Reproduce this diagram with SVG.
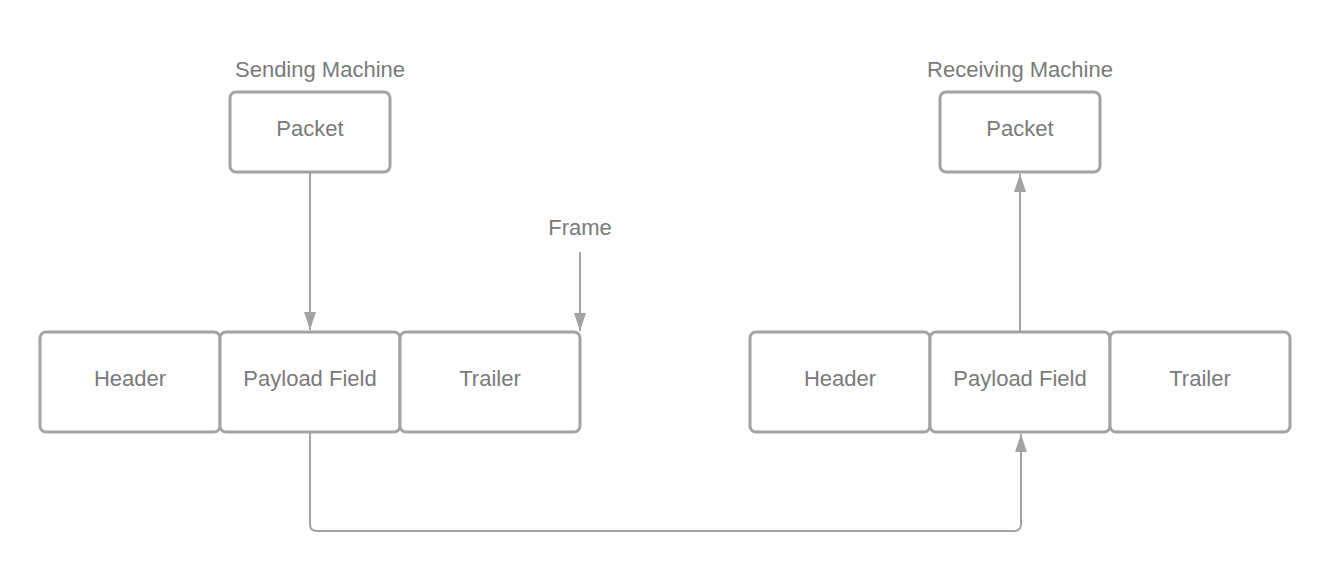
<svg xmlns="http://www.w3.org/2000/svg" width="1330" height="572" viewBox="0 0 1330 572">
<defs>
<style>
.box{fill:#fff;stroke:#a3a3a3;stroke-width:3}
.t{font-family:"Liberation Sans",Arial,sans-serif;font-size:22px;fill:#7a7a7a;text-anchor:middle}
.c{fill:none;stroke:#a3a3a3;stroke-width:2}
</style>
<marker id="ah" viewBox="0 0 18 12" refX="18" refY="6" markerWidth="18" markerHeight="12" markerUnits="userSpaceOnUse" orient="auto">
<path d="M0,0 L18,6 L0,12 Z" fill="#a3a3a3"/>
</marker>
</defs>
<rect width="1330" height="572" fill="#fff"/>
<g id="connectors">
<path class="c" d="M310,172 V330" marker-end="url(#ah)"/>
<path class="c" d="M580,252 V331" marker-end="url(#ah)"/>
<path class="c" d="M310,432 V524 Q310,531 317,531 H1014 Q1021,531 1021,524 V434" marker-end="url(#ah)"/>
<path class="c" d="M1020,332 V174" marker-end="url(#ah)"/>
</g>
<g id="label-sending"><text class="t" x="320" y="77">Sending Machine</text></g>
<g id="label-receiving"><text class="t" x="1020" y="77">Receiving Machine</text></g>
<g id="label-frame"><text class="t" x="580" y="235">Frame</text></g>
<g id="packet-send"><rect class="box" x="230" y="92" width="160" height="80" rx="6"/><text class="t" x="310" y="136">Packet</text></g>
<g id="packet-recv"><rect class="box" x="940" y="92" width="160" height="80" rx="6"/><text class="t" x="1020" y="136">Packet</text></g>
<g id="header-send"><rect class="box" x="40" y="332" width="180" height="100" rx="6"/><text class="t" x="130" y="386">Header</text></g>
<g id="payload-send"><rect class="box" x="220" y="332" width="180" height="100" rx="6"/><text class="t" x="310" y="386">Payload Field</text></g>
<g id="trailer-send"><rect class="box" x="400" y="332" width="180" height="100" rx="6"/><text class="t" x="490" y="386">Trailer</text></g>
<g id="header-recv"><rect class="box" x="750" y="332" width="180" height="100" rx="6"/><text class="t" x="840" y="386">Header</text></g>
<g id="payload-recv"><rect class="box" x="930" y="332" width="180" height="100" rx="6"/><text class="t" x="1020" y="386">Payload Field</text></g>
<g id="trailer-recv"><rect class="box" x="1110" y="332" width="180" height="100" rx="6"/><text class="t" x="1200" y="386">Trailer</text></g>
</svg>
